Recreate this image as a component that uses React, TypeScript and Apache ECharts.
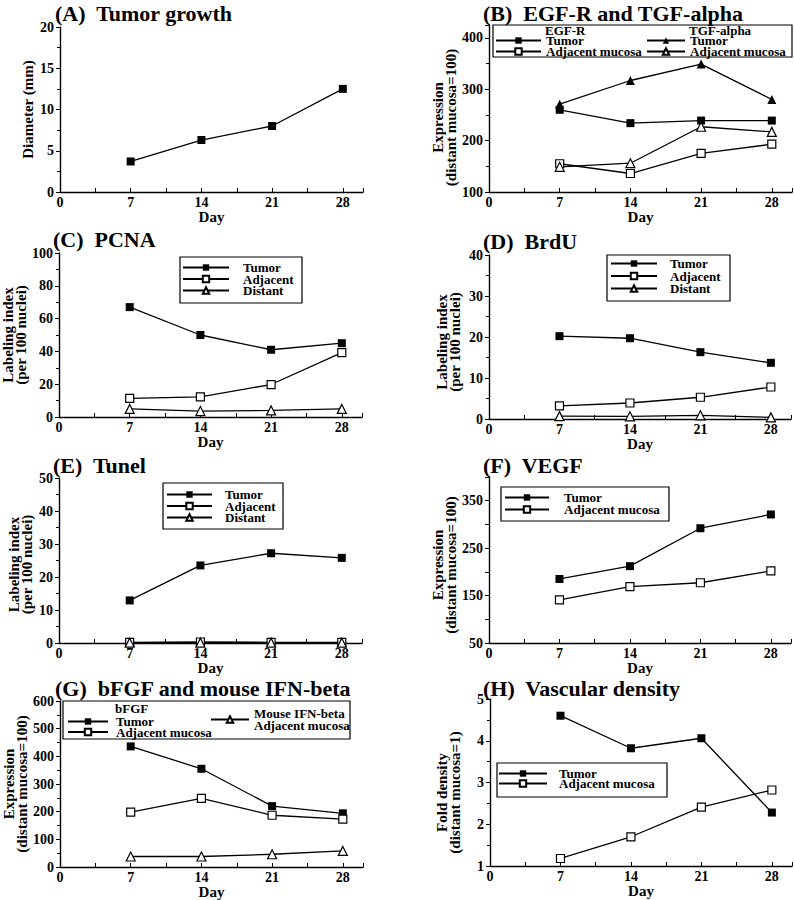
import React, { useEffect, useRef } from "react";
import * as echarts from "echarts";

// ---------- DATA ----------
const days = [7, 14, 21, 28];
const dayTicks = [0, 7, 14, 21, 28];

const tumorDiameter = [3.7, 6.3, 8.0, 12.5];

const egfrTumor = [260, 234, 239, 239];
const egfrAdjacent = [155, 136, 175, 193];
const tgfTumor = [271, 317, 349, 280];
const tgfAdjacent = [149, 156, 227, 217];

const pcnaTumor = [67, 50, 41, 45];
const pcnaAdjacent = [11.3, 12.3, 19.8, 39.3];
const pcnaDistant = [4.9, 3.6, 4.0, 4.9];

const brduTumor = [20.2, 19.7, 16.3, 13.7];
const brduAdjacent = [3.2, 3.9, 5.3, 7.8];
const brduDistant = [0.7, 0.65, 0.9, 0.4];

const tunelTumor = [12.9, 23.5, 27.2, 25.8];
const tunelAdjacent = [0.2, 0.3, 0.2, 0.2];
const tunelDistant = [0.1, 0.1, 0.1, 0.1];

const vegfTumor = [185, 212, 292, 321];
const vegfAdjacent = [141, 169, 177, 202];

const bfgfTumor = [436, 355, 220, 194];
const bfgfAdjacent = [198, 248, 187, 173];
const ifnAdjacent = [38, 38, 46, 58];

const vascTumor = [4.6, 3.82, 4.06, 2.28];
const vascAdjacent = [1.18, 1.7, 2.41, 2.82];

const titles = [
  "(A)\u00a0 Tumor growth",
  "(B)\u00a0 EGF-R and TGF-alpha",
  "(C)\u00a0 PCNA",
  "(D)\u00a0 BrdU",
  "(E)\u00a0 Tunel",
  "(F)\u00a0 VEGF",
  "(G)\u00a0 bFGF and mouse IFN-beta",
  "(H)\u00a0 Vascular density",
];
const yNames = [
  "Diameter (mm)",
  "Expression\n(distant mucosa=100)",
  "Labeling index\n(per 100 nuclei)",
  "Labeling index\n(per 100 nuclei)",
  "Labeling index\n(per 100 nuclei)",
  "Expression\n(distant mucosa=100)",
  "Expression\n(distant mucosa=100)",
  "Fold density\n(distant mucosa=1)",
];
const xName = "Day";

// ---------- LAYOUT ----------
const FONT = "'Liberation Serif', 'Times New Roman', serif";

const grids = [
  { left: 60, top: 27, width: 303, height: 165 },
  { left: 489, top: 25, width: 303, height: 167 },
  { left: 59, top: 253, width: 303, height: 164 },
  { left: 489, top: 255, width: 302, height: 164 },
  { left: 59, top: 478, width: 303, height: 165 },
  { left: 489, top: 477, width: 302, height: 166 },
  { left: 60, top: 701, width: 303, height: 166 },
  { left: 490, top: 699, width: 302, height: 167 },
];
const yRanges = [
  { min: 0, max: 20, interval: 5, minor: true },
  { min: 100, max: 425, interval: 100, minor: true },
  { min: 0, max: 100, interval: 20, minor: true },
  { min: 0, max: 40, interval: 10, minor: true },
  { min: 0, max: 50, interval: 10, minor: true },
  { min: 50, max: 400, interval: 50, minor: false },
  { min: 0, max: 600, interval: 100, minor: true },
  { min: 1, max: 5, interval: 1, minor: true },
];
const yNameGap = [26, 28, 32, 28, 26, 27, 30, 29];
const yNameShift = [0, 9, 0, 5, 4, 5, 0, 10];
const titlePos = [
  [55, 2], [483, 2], [53, 228], [483, 230], [53, 454], [483, 454], [55, 677], [483, 677],
];

// ---------- SERIES ----------
type S = { name: string; label: string; panel: number; values: number[]; symbol: string; filled: boolean };
const seriesDefs: S[] = [
  { name: "A:Tumor", label: "Tumor", panel: 0, values: tumorDiameter, symbol: "rect", filled: true },
  { name: "B:EGF-R Tumor", label: "Tumor", panel: 1, values: egfrTumor, symbol: "rect", filled: true },
  { name: "B:EGF-R Adjacent", label: "Adjacent mucosa", panel: 1, values: egfrAdjacent, symbol: "rect", filled: false },
  { name: "B:TGF Tumor", label: "Tumor", panel: 1, values: tgfTumor, symbol: "triangle", filled: true },
  { name: "B:TGF Adjacent", label: "Adjacent mucosa", panel: 1, values: tgfAdjacent, symbol: "triangle", filled: false },
  { name: "C:Tumor", label: "Tumor", panel: 2, values: pcnaTumor, symbol: "rect", filled: true },
  { name: "C:Adjacent", label: "Adjacent", panel: 2, values: pcnaAdjacent, symbol: "rect", filled: false },
  { name: "C:Distant", label: "Distant", panel: 2, values: pcnaDistant, symbol: "triangle", filled: false },
  { name: "D:Tumor", label: "Tumor", panel: 3, values: brduTumor, symbol: "rect", filled: true },
  { name: "D:Adjacent", label: "Adjacent", panel: 3, values: brduAdjacent, symbol: "rect", filled: false },
  { name: "D:Distant", label: "Distant", panel: 3, values: brduDistant, symbol: "triangle", filled: false },
  { name: "E:Tumor", label: "Tumor", panel: 4, values: tunelTumor, symbol: "rect", filled: true },
  { name: "E:Adjacent", label: "Adjacent", panel: 4, values: tunelAdjacent, symbol: "rect", filled: false },
  { name: "E:Distant", label: "Distant", panel: 4, values: tunelDistant, symbol: "triangle", filled: false },
  { name: "F:Tumor", label: "Tumor", panel: 5, values: vegfTumor, symbol: "rect", filled: true },
  { name: "F:Adjacent", label: "Adjacent mucosa", panel: 5, values: vegfAdjacent, symbol: "rect", filled: false },
  { name: "G:bFGF Tumor", label: "Tumor", panel: 6, values: bfgfTumor, symbol: "rect", filled: true },
  { name: "G:bFGF Adjacent", label: "Adjacent mucosa", panel: 6, values: bfgfAdjacent, symbol: "rect", filled: false },
  { name: "G:IFN Adjacent", label: "Mouse IFN-beta\nAdjacent mucosa", panel: 6, values: ifnAdjacent, symbol: "triangle", filled: false },
  { name: "H:Tumor", label: "Tumor", panel: 7, values: vascTumor, symbol: "rect", filled: true },
  { name: "H:Adjacent", label: "Adjacent mucosa", panel: 7, values: vascAdjacent, symbol: "rect", filled: false },
];
const labelMap: Record<string, string> = {};
seriesDefs.forEach((s) => (labelMap[s.name] = s.label));

// legends: [data names, left, top, itemWidth, textPad, itemGap]
const legends: [string[], number, number, number, number, number][] = [
  [["B:EGF-R Tumor", "B:EGF-R Adjacent"], 495, 34, 45, 0, -2],
  [["B:TGF Tumor", "B:TGF Adjacent"], 646, 34, 38, 0, -2],
  [["C:Tumor", "C:Adjacent", "C:Distant"], 182, 261, 46, 9, -1.5],
  [["D:Tumor", "D:Adjacent", "D:Distant"], 610, 257, 46, 8, -0.5],
  [["E:Tumor", "E:Adjacent", "E:Distant"], 166, 488, 45, 8, -1.5],
  [["F:Tumor", "F:Adjacent"], 504, 491, 44, 10, -1],
  [["G:bFGF Tumor", "G:bFGF Adjacent"], 67, 715, 40, 3, -2.5],
  [["G:IFN Adjacent"], 210, 707, 38, 0, 0],
  [["H:Tumor", "H:Adjacent"], 498, 767, 48, 7, -3],
];
const legendBoxes = [
  [493, 25, 299, 32],
  [180, 257, 122, 46],
  [607, 255, 123, 46],
  [163, 483, 120, 46],
  [501, 487, 168, 34],
  [63, 701, 287, 38],
  [497, 763, 170, 34],
];
const headings: [string, number, number][] = [
  ["EGF-R", 545, 30],
  ["TGF-alpha", 689, 30],
  ["bFGF", 115, 708],
];

export default function App() {
  const ref = useRef<HTMLDivElement>(null);
  useEffect(() => {
    if (!ref.current) return;
    const chart = echarts.init(ref.current, undefined, { renderer: "svg" });
    const black = "#000";
    const option: any = {
      animation: false,
      backgroundColor: "#fff",
      title: titles.map((t, i) => ({
        text: t,
        left: titlePos[i][0],
        top: titlePos[i][1],
        padding: 0,
        textStyle: { fontFamily: FONT, fontWeight: "bold", fontSize: 22, color: black },
      })),
      grid: grids.map((g) => ({ ...g, containLabel: false, outerBoundsMode: "none" })),
      xAxis: grids.map((_, i) => ({
        type: "value",
        gridIndex: i,
        min: 0,
        max: 30,
        interval: 3.5,
        name: xName,
        nameLocation: "middle",
        nameGap: 15,
        nameTextStyle: { fontFamily: FONT, fontWeight: "bold", fontSize: 15, color: black, verticalAlign: "top" },
        axisLine: { show: true, onZero: false, lineStyle: { color: black, width: 1.4 } },
        axisTick: { show: true, inside: true, length: 4, lineStyle: { color: black, width: 1 } },
        axisLabel: {
          margin: 3,
          fontFamily: FONT,
          fontWeight: "bold",
          fontSize: 14,
          color: black,
          formatter: (v: number) => (dayTicks.includes(v) ? String(v) : ""),
        },
        splitLine: { show: false },
      })),
      yAxis: grids.map((_, i) => {
        const r = yRanges[i];
        return {
          type: "value",
          gridIndex: i,
          min: r.min,
          max: r.max,
          interval: r.interval,
          name: yNames[i],
          nameLocation: "middle",
          nameGap: yNameGap[i],
          nameRotate: 90,
          nameTextStyle: {
            fontFamily: FONT,
            fontWeight: "bold",
            fontSize: 15,
            lineHeight: 13,
            color: black,
            padding: [0, yNameShift[i] * 2, 0, 0],
          },
          axisLine: { show: true, onZero: false, lineStyle: { color: black, width: 1.4 } },
          axisTick: { show: true, inside: false, length: 4, lineStyle: { color: black, width: 1 } },
          minorTick: { show: r.minor, splitNumber: 2, length: 3, lineStyle: { color: black, width: 1 } },
          axisLabel: {
            margin: 6,
            fontFamily: FONT,
            fontWeight: "bold",
            fontSize: 14,
            color: black,
            formatter: (v: number) => {
              if (i === 1) return v % 100 === 0 ? String(v) : "";
              if (i === 5) return (v - 50) % 100 === 0 && v < 400 ? String(v) : "";
              return String(v);
            },
          },
          splitLine: { show: false },
          minorSplitLine: { show: false },
        };
      }),
      legend: legends.map(([data, left, top, w, pad, gap]) => ({
        data,
        left,
        top,
        orient: "vertical",
        padding: 0,
        itemWidth: w,
        itemHeight: 8,
        itemGap: gap,
        selectedMode: false,
        formatter: (n: string) => labelMap[n] || n,
        textStyle: {
          fontFamily: FONT,
          fontWeight: "bold",
          fontSize: 13,
          color: black,
          lineHeight: 12,
          padding: [0, 0, 0, pad],
        },
      })),
      graphic: [
        ...legendBoxes.map(([x, y, w, h]) => ({
          type: "rect",
          shape: { x, y, width: w, height: h },
          style: { fill: "none", stroke: black, lineWidth: 1.2 },
          silent: true,
        })),
        ...headings.map(([t, x, y]) => ({
          type: "text",
          x,
          y,
          style: {
            text: t,
            fontFamily: FONT,
            fontWeight: "bold",
            fontSize: 13,
            fill: black,
            verticalAlign: "middle",
            align: "left",
          },
          silent: true,
        })),
      ],
      series: seriesDefs.map((s) => ({
        type: "line",
        name: s.name,
        xAxisIndex: s.panel,
        yAxisIndex: s.panel,
        data: days.map((d, k) => [d, s.values[k]]),
        symbol: s.symbol,
        symbolSize: s.symbol === "triangle" ? 9 : 8,
        showSymbol: true,
        silent: true,
        lineStyle: { color: black, width: 1.3 },
        itemStyle: {
          color: s.filled ? black : "#fff",
          borderColor: black,
          borderWidth: s.filled ? 0 : 1.2,
        },
        emphasis: { disabled: true },
      })),
    };
    chart.setOption(option);
    return () => chart.dispose();
  }, []);
  return (
    <div
      ref={ref}
      style={{ position: "absolute", left: 0, top: 0, width: 794, height: 900, background: "#fff" }}
    />
  );
}
